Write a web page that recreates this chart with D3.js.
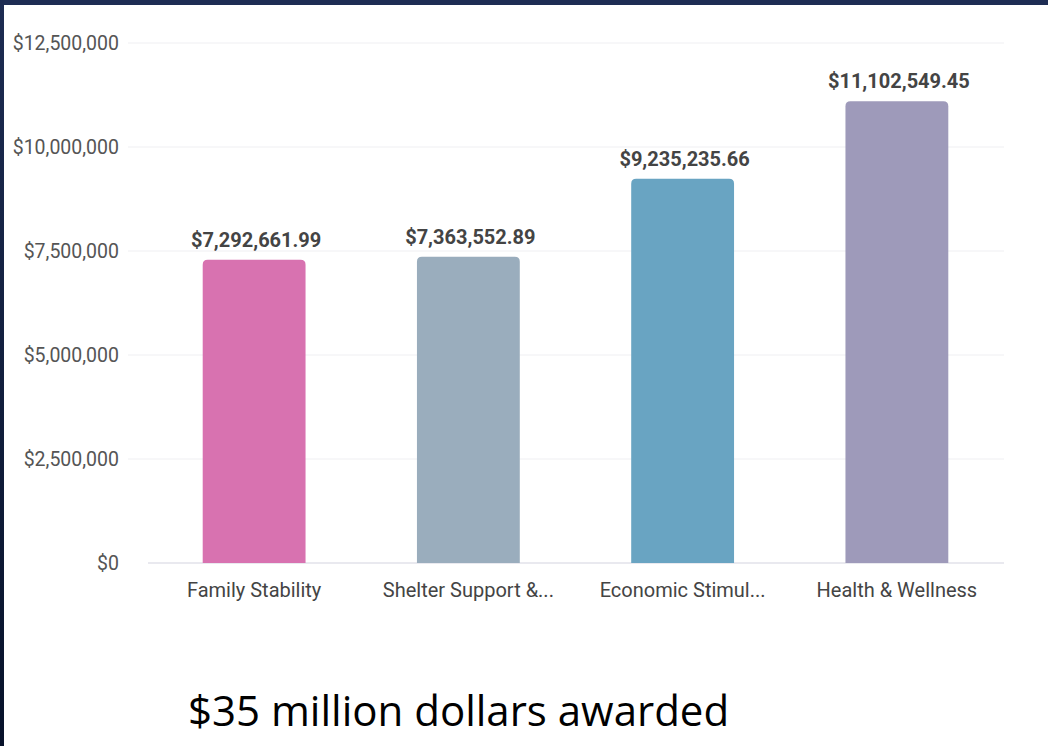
<!DOCTYPE html>
<html>
<head>
<meta charset="utf-8">
<script src="https://cdn.jsdelivr.net/npm/d3@7"></script>
<style>
  html, body { margin: 0; padding: 0; background: #fff; }
  svg { display: block; }
</style>
</head>
<body>
<svg id="chart" width="1048" height="746"></svg>
<script>
// chart data
const categories = ["Family Stability", "Shelter Support &...", "Economic Stimul...", "Health & Wellness"]
const amounts = [7292661.99, 7363552.89, 9235235.66, 11102549.45]
const barColors = ["#d872b0", "#9aadbd", "#69a4c2", "#9e9aba"]
const yTicks = [0, 2500000, 5000000, 7500000, 10000000, 12500000]
const caption = "$35 million dollars awarded"

const svg = d3.select("#chart")
const margin = {left: 147, right: 44, top: 43, bottom: 183}
const width = 1048, height = 746

// slide frame
const frame = svg.append("defs").append("linearGradient")
  .attr("id", "frame").attr("x1", 0).attr("y1", 0).attr("x2", 0).attr("y2", 1)
frame.append("stop").attr("offset", 0).attr("stop-color", "#1d2c52")
frame.append("stop").attr("offset", 1).attr("stop-color", "#07122a")
svg.append("rect").attr("width", width).attr("height", 5).attr("fill", "#1e2d54")
svg.append("rect").attr("width", 4).attr("height", height).attr("fill", "url(#frame)")

const x = d3.scaleBand()
  .domain(categories)
  .range([margin.left, width - margin.right])
  .paddingInner(0.52)
  .paddingOuter(0.26)

const y = d3.scaleLinear()
  .domain([0, 12500000])
  .range([height - margin.bottom, margin.top])

// gridlines
svg.append("g")
  .selectAll("line")
  .data(yTicks.slice(1))
  .join("line")
  .attr("x1", 128).attr("x2", width - margin.right)
  .attr("y1", d => y(d)).attr("y2", d => y(d))
  .attr("stroke", "#efeff2").attr("stroke-width", 1)

// y axis labels
const yAxis = svg.append("g")
  .attr("transform", `translate(119,0)`)
  .call(d3.axisLeft(y).tickValues(yTicks).tickSize(0).tickPadding(0)
    .tickFormat(d => "$" + d3.format(",")(d)))
yAxis.select(".domain").remove()
yAxis.selectAll("text")
  .attr("font-family", "Roboto, sans-serif")
  .attr("font-size", 19.5)
  .attr("fill", "#555")

// baseline
svg.append("line")
  .attr("x1", 148).attr("x2", width - margin.right)
  .attr("y1", y(0)).attr("y2", y(0))
  .attr("stroke", "#e2e2ea").attr("stroke-width", 1.5)

// bars with rounded tops
const r = 5
function barPath(d, i) {
  const x0 = x(categories[i]), x1 = x0 + x.bandwidth()
  const y0 = y(0), y1 = y(d)
  return `M${x0},${y0}V${y1 + r}Q${x0},${y1} ${x0 + r},${y1}H${x1 - r}Q${x1},${y1} ${x1},${y1 + r}V${y0}Z`
}
svg.append("g")
  .selectAll("path")
  .data(amounts)
  .join("path")
  .attr("d", barPath)
  .attr("fill", (d, i) => barColors[i])

// value labels
svg.append("g")
  .selectAll("text")
  .data(amounts)
  .join("text")
  .attr("x", (d, i) => x(categories[i]) + x.bandwidth() / 2 + 2)
  .attr("y", d => y(d) - 13)
  .attr("text-anchor", "middle")
  .attr("font-family", "Roboto, sans-serif")
  .attr("font-weight", "bold")
  .attr("font-size", 20)
  .attr("fill", "#444")
  .text(d => "$" + d3.format(",.2f")(d))

// category labels
const xAxis = svg.append("g")
  .attr("transform", `translate(0,${y(0)})`)
  .call(d3.axisBottom(x).tickSize(0).tickPadding(20))
xAxis.select(".domain").remove()
xAxis.selectAll("text")
  .attr("font-family", "Roboto, sans-serif")
  .attr("font-size", 20)
  .attr("fill", "#444")

// caption
svg.append("text")
  .attr("x", 188)
  .attr("y", 726)
  .attr("font-family", "'Open Sans', sans-serif")
  .attr("font-size", 42)
  .attr("fill", "#000")
  .text(caption)
</script>
</body>
</html>
